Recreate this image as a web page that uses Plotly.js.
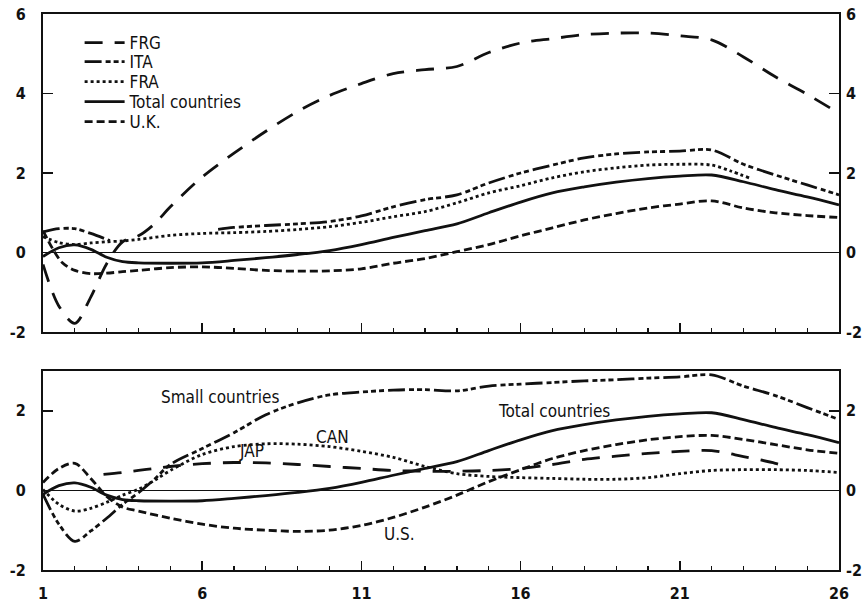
<!DOCTYPE html>
<html>
<head>
<meta charset="utf-8">
<script src="https://cdn.plot.ly/plotly-3.0.1.min.js"></script>
<style>
  html, body { margin: 0; padding: 0; background: #fff; }
  #chart { width: 868px; height: 605px; }
</style>
</head>
<body>
<div id="chart"></div>
<script>
// ---- Upper panel: large countries ----
const frgX = [1, 1.5, 2, 2.5, 3, 3.5, 4, 4.5, 5, 6, 7, 8, 9, 10, 11, 12, 13, 14, 15, 16, 17, 18, 19, 20, 21, 22, 23, 24, 25, 26];
const frgY = [-0.3, -1.35, -1.78, -1.12, -0.28, 0.27, 0.42, 0.72, 1.15, 1.9, 2.5, 3.05, 3.55, 3.95, 4.25, 4.5, 4.6, 4.68, 5.03, 5.27, 5.38, 5.48, 5.52, 5.52, 5.45, 5.35, 4.92, 4.42, 3.98, 3.5];

const itaX = [1, 1.5, 2, 2.5, 3.1, 5, 6.5, 7, 8, 9, 10, 11, 12, 13, 14, 15, 16, 17, 18, 19, 20, 21, 22, 23, 24, 25, 26];
const itaY = [0.52, 0.6, 0.6, 0.48, 0.3, null, 0.58, 0.63, 0.68, 0.72, 0.78, 0.92, 1.15, 1.33, 1.45, 1.75, 2.0, 2.2, 2.38, 2.48, 2.53, 2.55, 2.58, 2.22, 1.95, 1.7, 1.45];

const fraX = [1, 1.5, 2, 2.5, 3, 3.5, 4, 5, 6, 7, 8, 9, 10, 11, 12, 13, 14, 15, 16, 17, 18, 19, 20, 21, 22, 22.6, 23.2];
const fraY = [0.4, 0.25, 0.2, 0.24, 0.27, 0.29, 0.33, 0.43, 0.48, 0.5, 0.53, 0.58, 0.65, 0.76, 0.9, 1.03, 1.25, 1.5, 1.68, 1.88, 2.03, 2.13, 2.2, 2.22, 2.2, 2.05, 1.87];

const totalX = [1, 1.5, 2, 2.5, 3, 3.5, 4, 5, 6, 7, 8, 9, 10, 11, 12, 13, 14, 15, 16, 17, 18, 19, 20, 21, 22, 23, 24, 25, 26];
const totalY = [-0.1, 0.12, 0.19, 0.08, -0.12, -0.23, -0.26, -0.27, -0.26, -0.2, -0.13, -0.05, 0.05, 0.2, 0.38, 0.55, 0.72, 1.0, 1.27, 1.5, 1.65, 1.77, 1.86, 1.92, 1.95, 1.78, 1.58, 1.4, 1.2];

const ukX = [1, 1.3, 1.6, 2, 2.5, 3, 3.5, 4, 5, 6, 7, 8, 9, 10, 11, 12, 13, 14, 15, 16, 17, 18, 19, 20, 21, 22, 23, 24, 25, 26];
const ukY = [0.55, 0.1, -0.25, -0.45, -0.53, -0.52, -0.48, -0.45, -0.38, -0.36, -0.4, -0.45, -0.47, -0.46, -0.41, -0.27, -0.15, 0.02, 0.2, 0.42, 0.62, 0.82, 0.98, 1.12, 1.22, 1.3, 1.12, 1.0, 0.93, 0.88];

// ---- Lower panel: other countries ----
const smallX = [1, 1.5, 2, 2.5, 3, 3.5, 4, 4.5, 5, 6, 7, 8, 9, 10, 11, 12, 13, 14, 15, 16, 17, 18, 19, 20, 21, 22, 23, 24, 25, 26];
const smallY = [-0.1, -0.85, -1.28, -1.02, -0.7, -0.35, -0.06, 0.28, 0.65, 1.05, 1.45, 1.9, 2.2, 2.4, 2.47, 2.52, 2.53, 2.5, 2.62, 2.67, 2.71, 2.75, 2.78, 2.82, 2.85, 2.9, 2.62, 2.38, 2.08, 1.78];

const canX = [1, 1.5, 2, 2.5, 3, 3.5, 4, 4.5, 5, 6, 7, 8, 9, 10, 11, 12, 13, 14, 15, 16, 17, 18, 19, 20, 21, 22, 23, 24, 25, 26];
const canY = [0.02, -0.35, -0.52, -0.45, -0.3, -0.12, 0.03, 0.25, 0.5, 0.9, 1.1, 1.17, 1.16, 1.1, 0.98, 0.83, 0.6, 0.42, 0.35, 0.32, 0.3, 0.28, 0.28, 0.32, 0.42, 0.5, 0.52, 0.52, 0.5, 0.45];

const japX = [2.9, 3.5, 4, 4.5, 5, 6, 7, 8, 9, 10, 11, 12, 13, 14, 15, 16, 17, 18, 19, 20, 21, 22, 23, 24, 24.3];
const japY = [0.4, 0.45, 0.5, 0.55, 0.6, 0.67, 0.7, 0.69, 0.65, 0.6, 0.55, 0.5, 0.48, 0.48, 0.5, 0.55, 0.65, 0.78, 0.86, 0.93, 0.98, 1.0, 0.85, 0.68, 0.6];

const usX = [1, 1.5, 2, 2.5, 3, 3.5, 4, 5, 6, 7, 8, 9, 10, 11, 12, 13, 14, 15, 16, 17, 18, 19, 20, 21, 22, 23, 24, 25, 26];
const usY = [0.2, 0.55, 0.68, 0.3, -0.15, -0.42, -0.52, -0.7, -0.85, -0.95, -1.0, -1.03, -1.0, -0.88, -0.68, -0.42, -0.12, 0.22, 0.52, 0.8, 1.0, 1.15, 1.27, 1.35, 1.38, 1.28, 1.15, 1.02, 0.93];

// Axis ticks
const xTicks = [1, 6, 11, 16, 21, 26];
const upperYTicks = [-2, 0, 2, 4, 6];
const lowerYTicks = [-2, 0, 2];

// Line styles
const INK = '#111';
const W = 2.8;
const LONG_DASH = '18px,12px';
const SHORT_DASH = '8px,4px';
const DASH_DOTS = '17px,4px,5px,3px,5px,3px,5px,4px';
const DOTS = '3px,3px';

const TXT = 'DejaVu Sans Condensed, DejaVu Sans, sans-serif';

function line(x, y, name, dash, xa, ya, legend) {
  const t = {
    type: 'scatter', mode: 'lines', x: x, y: y, name: name,
    xaxis: xa, yaxis: ya, showlegend: !!legend,
    connectgaps: false, hoverinfo: 'skip',
    line: { color: INK, width: W, dash: dash, shape: 'spline', smoothing: 0.9 }
  };
  if (legend) t.legend = legend;
  return t;
}

// Transparent copy so the right-hand value axes are laid out
function ghost(x, y, xa, ya) {
  return {
    type: 'scatter', mode: 'lines', x: x, y: y, xaxis: xa, yaxis: ya,
    showlegend: false, hoverinfo: 'skip', opacity: 0,
    line: { color: 'rgba(0,0,0,0)', width: 0 }
  };
}

const data = [
  line(frgX, frgY, 'FRG', LONG_DASH, 'x', 'y', 'legend'),
  line(itaX, itaY, 'ITA', DASH_DOTS, 'x', 'y', 'legend2'),
  line(fraX, fraY, 'FRA', DOTS, 'x', 'y', 'legend3'),
  line(totalX, totalY, 'Total countries', 'solid', 'x', 'y', 'legend4'),
  line(ukX, ukY, 'U.K.', SHORT_DASH, 'x', 'y', 'legend5'),

  line(smallX, smallY, 'Small countries', DASH_DOTS, 'x2', 'y2'),
  line(canX, canY, 'CAN', DOTS, 'x2', 'y2'),
  line(japX, japY, 'JAP', LONG_DASH, 'x2', 'y2'),
  line(usX, usY, 'U.S.', SHORT_DASH, 'x2', 'y2'),
  line(totalX, totalY, 'Total countries', 'solid', 'x2', 'y2'),

  ghost(totalX, totalY, 'x', 'y3'),
  ghost(totalX, totalY, 'x2', 'y4')
];

const tickFont = { family: TXT, size: 16, color: INK, weight: 'bold' };

function xAxis(anchor, labels) {
  return {
    anchor: anchor, domain: [0, 1], range: [1, 26],
    tickmode: 'array', tickvals: xTicks, ticktext: xTicks.map(String),
    showticklabels: labels, tickfont: tickFont, ticklabelstandoff: 8,
    ticks: 'inside', ticklen: 9, tickwidth: 1.5, tickcolor: INK,
    minor: { dtick: 1, tick0: 1, ticks: 'inside', ticklen: 4, tickwidth: 1.2, tickcolor: INK, showgrid: false },
    showline: true, linecolor: INK, linewidth: 2, mirror: true,
    showgrid: false, zeroline: false, fixedrange: true
  };
}

function yAxis(domain, range, ticks, side, overlay, anchor) {
  const ax = {
    range: range, autorange: false, tickmode: 'array', tickvals: ticks,
    ticktext: ticks.map(v => v < 0 ? '-' + Math.abs(v) : String(v)),
    tickfont: tickFont, ticks: 'inside', ticklen: 10, tickwidth: 1.5, tickcolor: INK,
    showgrid: false, fixedrange: true, side: side, anchor: anchor
  };
  if (overlay) {
    ax.overlaying = overlay;
    ax.showline = false;
    ax.zeroline = false;
    ax.ticklabelstandoff = 6;
  } else {
    ax.domain = domain;
    ax.showline = true; ax.linecolor = INK; ax.linewidth = 2; ax.mirror = true;
    ax.zeroline = true; ax.zerolinecolor = INK; ax.zerolinewidth = 1.4;
    ax.ticklabelstandoff = 12;
  }
  return ax;
}

const annFont = { family: TXT, size: 17, color: INK };
function label(text, x, y) {
  return { text: text, x: x, y: y, xref: 'x2', yref: 'y2', showarrow: false, font: annFont, xanchor: 'center', yanchor: 'middle' };
}

// One key row per legend so the rows sit 20px apart
function keyRow(y) {
  return {
    x: 0.046, y: y, xanchor: 'left', yanchor: 'middle',
    bgcolor: 'rgba(0,0,0,0)', borderwidth: 0,
    font: { family: TXT, size: 17, color: INK },
    itemwidth: 40
  };
}

const layout = {
  width: 868, height: 605,
  margin: { l: 43, r: 29, t: 14, b: 35 },
  paper_bgcolor: '#fff', plot_bgcolor: '#fff',
  showlegend: true,
  legend: keyRow(0.9478),
  legend2: keyRow(0.9137),
  legend3: keyRow(0.8777),
  legend4: keyRow(0.8417),
  legend5: keyRow(0.8058),
  xaxis: xAxis('y', false),
  xaxis2: xAxis('y2', true),
  yaxis: yAxis([0.428, 1], [-2, 6], upperYTicks, 'left', null, 'x'),
  yaxis3: yAxis(null, [-2, 6], upperYTicks, 'right', 'y', 'x'),
  yaxis2: yAxis([0, 0.358], [-2, 3], lowerYTicks, 'left', null, 'x2'),
  yaxis4: yAxis(null, [-2, 3], lowerYTicks, 'right', 'y2', 'x2'),
  annotations: [
    label('Small countries', 6.55, 2.35),
    label('Total countries', 17.05, 2.0),
    label('CAN', 10.1, 1.35),
    label('JAP', 7.55, 0.98),
    label('U.S.', 12.2, -1.1)
  ]
};

Plotly.newPlot('chart', data, layout, { staticPlot: true, displayModeBar: false });
</script>
</body>
</html>
